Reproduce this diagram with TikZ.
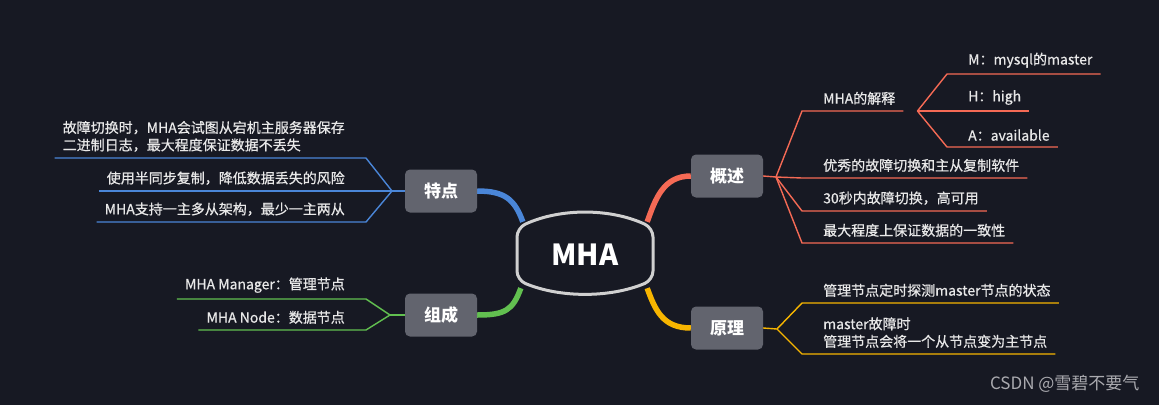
\documentclass[tikz,border=0pt]{standalone}
\usepackage{fontspec}
\setmainfont{Noto Sans CJK SC}
\newfontfamily\itemfont{Noto Sans CJK SC}[FakeBold=0.6]
\usepackage{tikz}
\usetikzlibrary{calc,backgrounds}
\usepackage{xcolor}

\definecolor{bgdark}{RGB}{23,25,35}
\definecolor{catgray}{RGB}{98,100,110}
\definecolor{ringgray}{RGB}{208,208,208}
\definecolor{itemwhite}{RGB}{232,232,232}
\definecolor{tblue}{RGB}{74,134,216}
\definecolor{tgreen}{RGB}{98,192,80}
\definecolor{tred}{RGB}{245,106,85}
\definecolor{torange}{RGB}{247,181,0}
\definecolor{wmgray}{RGB}{170,170,175}

\begin{document}
\begin{tikzpicture}[x=1pt,y=-1pt,
  cat/.style={fill=catgray, rounded corners=5pt, minimum width=72pt, minimum height=43pt,
    text=white, font=\fontsize{17}{20}\selectfont\bfseries},
  item/.style={inner xsep=0pt, inner ysep=6pt, text=itemwhite, align=left,
    font=\itemfont\fontsize{14}{17.5}\selectfont},
  trunk/.style={line width=5.5pt},
  twig/.style={line width=1.4pt}]

% Centre: MHA
\draw[line width=3pt, draw=ringgray, fill=bgdark, rounded corners=9pt]
  (517,255) -- (517,228) .. controls (560,208) and (610,208) .. (653,228)
  -- (653,280) .. controls (610,298) and (560,298) .. (517,280) -- cycle;
\node[font=\fontsize{29}{31}\selectfont\bfseries, text=white,
  minimum width=136pt, minimum height=66pt] (mha) at (585,255) {MHA};

% Main topics
\node[cat] (tedian) at (441,191) {特点};
\node[cat] (zucheng) at (441,315) {组成};
\node[cat] (gaishu) at (727,176) {概述};
\node[cat] (yuanli) at (727,328) {原理};

\begin{scope}[on background layer]
\fill[bgdark] (0,0) rectangle (1159,405);
\draw[trunk, tblue] (tedian.east) .. controls +(28,0) and +(-8,-22) .. ([xshift=6pt]mha.north west);
\draw[trunk, tgreen] (zucheng.east) .. controls +(28,0) and +(-8,22) .. ([xshift=4pt]mha.south west);
\draw[trunk, tred] (gaishu.west) .. controls +(-28,0) and +(8,-22) .. ([xshift=-6pt]mha.north east);
\draw[trunk, torange] (yuanli.west) .. controls +(-28,0) and +(8,22) .. ([xshift=-6pt]mha.south east);
\end{scope}

% Branch: 特点
\coordinate (tj) at (392,191);
\node[item, anchor=south east] (t1) at (345,158) {故障切换时，MHA会试图从宕机主服务器保存\\二进制日志，最大程度保证数据不丢失};
\node[item, anchor=south east] (t2) at (345,191) {使用半同步复制，降低数据丢失的风险};
\node[item, anchor=south east] (t3) at (345,222) {MHA支持一主多从架构，最少一主两从};
\draw[twig, tblue] (tedian.west) -- (tj);
\draw[twig, tblue] (tj) -- ([xshift=21pt]t1.south east) -- ([xshift=-8pt]t1.south west);
\draw[twig, tblue] (tj) -- ([xshift=-8pt]t2.south west);
\draw[twig, tblue] (tj) -- ([xshift=21pt]t3.south east) -- ([xshift=-8pt]t3.south west);

% Branch: 组成
\coordinate (zj) at (390,315);
\node[item, anchor=south east] (z1) at (345,299) {MHA Manager：管理节点};
\node[item, anchor=south east] (z2) at (345,330) {MHA Node：数据节点};
\draw[twig, tgreen] (zucheng.west) -- (zj);
\draw[twig, tgreen] (zj) -- ([xshift=21pt]z1.south east) -- ([xshift=-8pt]z1.south west);
\draw[twig, tgreen] (zj) -- ([xshift=21pt]z2.south east) -- ([xshift=-8pt]z2.south west);

% Branch: 概述
\coordinate (gj) at (776,177);
\node[item, anchor=south west] (g1) at (823,111) {MHA的解释};
\node[item, anchor=south west] (g2) at (823,178) {优秀的故障切换和主从复制软件};
\node[item, anchor=south west] (g3) at (823,211) {30秒内故障切换，高可用};
\node[item, anchor=south west] (g4) at (823,243) {最大程度上保证数据的一致性};
\draw[twig, tred] (gaishu.east) -- (gj);
\foreach \n in {g1,g2,g3,g4}
  \draw[twig, tred] (gj) -- ([xshift=-21pt]\n.south west) -- ([xshift=8pt]\n.south east);

% MHA的解释
\coordinate (ej) at ([xshift=22pt]g1.south east);
\node[item, anchor=south west] (e1) at (968,74) {M：mysql的master};
\node[item, anchor=south west] (e2) at (968,111) {H：high};
\node[item, anchor=south west] (e3) at (968,147) {A：available};
\foreach \n in {e1,e2,e3}
  \draw[twig, tred] (ej) -- ([xshift=-21pt]\n.south west) -- ([xshift=8pt]\n.south east);

% Branch: 原理
\coordinate (yj) at (777,329);
\node[item, anchor=south west] (y1) at (823,303) {管理节点定时探测master节点的状态};
\node[item, anchor=south west] (y2) at (823,354) {master故障时\\管理节点会将一个从节点变为主节点};
\draw[twig, torange] (yuanli.east) -- (yj);
\foreach \n in {y1,y2}
  \draw[twig, torange] (yj) -- ([xshift=-21pt]\n.south west) -- ([xshift=8pt]\n.south east);

\node[anchor=east, text=wmgray, font=\fontsize{17}{20}\selectfont] (wm) at (1143,384) {CSDN @雪碧不要气};

\end{tikzpicture}
\end{document}
